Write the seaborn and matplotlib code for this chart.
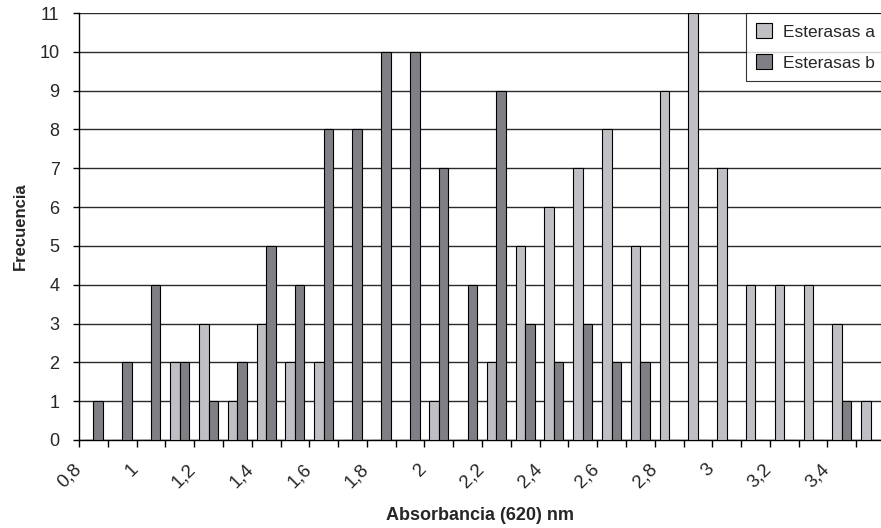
import pandas as pd
import matplotlib
matplotlib.use("Agg")
import matplotlib.pyplot as plt
import matplotlib.transforms as mtransforms
import seaborn as sns

# absorbance classes (620 nm), one bar pair per class
absorbancia = ["0,8", "0,9", "1", "1,1", "1,2", "1,3", "1,4", "1,5", "1,6", "1,7",
               "1,8", "1,9", "2", "2,1", "2,2", "2,3", "2,4", "2,5", "2,6", "2,7",
               "2,8", "2,9", "3", "3,1", "3,2", "3,3", "3,4", "3,5"]
esterasas_a = [0, 0, 0, 2, 3, 1, 3, 2, 2, 0,
               0, 0, 1, 0, 2, 5, 6, 7, 8, 5,
               9, 11, 7, 4, 4, 4, 3, 1]
esterasas_b = [1, 2, 4, 2, 1, 2, 5, 4, 8, 8,
               10, 10, 7, 4, 9, 3, 2, 3, 2, 2,
               0, 0, 0, 0, 0, 0, 1, 0]
series = ["Esterasas a", "Esterasas b"]
colors = ["#c0c0c4", "#7f7f85"]

df = pd.DataFrame({
    "Absorbancia": absorbancia * 2,
    "Frecuencia": esterasas_a + esterasas_b,
    "Serie": [series[0]] * len(absorbancia) + [series[1]] * len(absorbancia),
})

sns.set_style("white")
plt.rcParams["font.family"] = ["Liberation Sans", "DejaVu Sans"]

fig = plt.figure(figsize=(8.81, 5.28), dpi=100)
ax = fig.add_axes([79 / 881, 88 / 528, 806 / 881, 427 / 528])

sns.barplot(data=df, x="Absorbancia", y="Frecuencia", hue="Serie",
            order=absorbancia, hue_order=series, palette=colors,
            width=0.66, edgecolor="black", linewidth=0.8, saturation=1,
            ax=ax, zorder=3)

# horizontal grid behind the bars
ax.set_ylim(0, 11)
ax.set_yticks(range(0, 12))
ax.yaxis.grid(True, color="#2a2a2a", linewidth=1, zorder=0)
ax.set_axisbelow(True)
ax.set_xlim(-0.5, len(absorbancia) - 0.5)

for side in ["top", "right"]:
    ax.spines[side].set_visible(False)
for side in ["left", "bottom"]:
    ax.spines[side].set_color("black")
    ax.spines[side].set_linewidth(1)

# labels every second class, ticks at the class boundaries
ax.set_xticks(range(0, len(absorbancia), 2))
ax.set_xticklabels(absorbancia[::2], rotation=45, ha="right", va="top",
                   fontsize=13.5)
ax.tick_params(axis="x", which="major", length=0, pad=15)
shift = mtransforms.ScaledTranslation(-9 / 100, 0, fig.dpi_scale_trans)
for lab in ax.get_xticklabels():
    lab.set_transform(lab.get_transform() + shift)
ax.set_xticks([i - 0.5 for i in range(len(absorbancia) + 1)], minor=True)
ax.tick_params(axis="x", which="minor", length=5, width=1, color="black",
               direction="out", bottom=True)
ax.tick_params(axis="y", length=4, width=1, color="black", direction="out",
               left=True, labelsize=13, pad=10)

ax.set_xlabel("Absorbancia (620) nm", fontsize=13, fontweight="bold")
ax.set_ylabel("Frecuencia", fontsize=12, fontweight="bold")
ax.xaxis.set_label_coords(0.4975, -0.157)
ax.yaxis.set_label_coords(-0.064, 0.5)

leg = ax.legend(loc="upper left", bbox_to_anchor=(746 / 881, 1 - 13 / 528),
                bbox_transform=fig.transFigure, fontsize=12.5, frameon=True,
                fancybox=False, borderpad=0.6, labelspacing=0.85,
                handlelength=0.9, handleheight=0.9, handletextpad=0.65,
                borderaxespad=0)
leg.get_frame().set_edgecolor("black")
leg.get_frame().set_linewidth(0.8)
leg.set_title(None)

fig.savefig("out.png", dpi=100)
